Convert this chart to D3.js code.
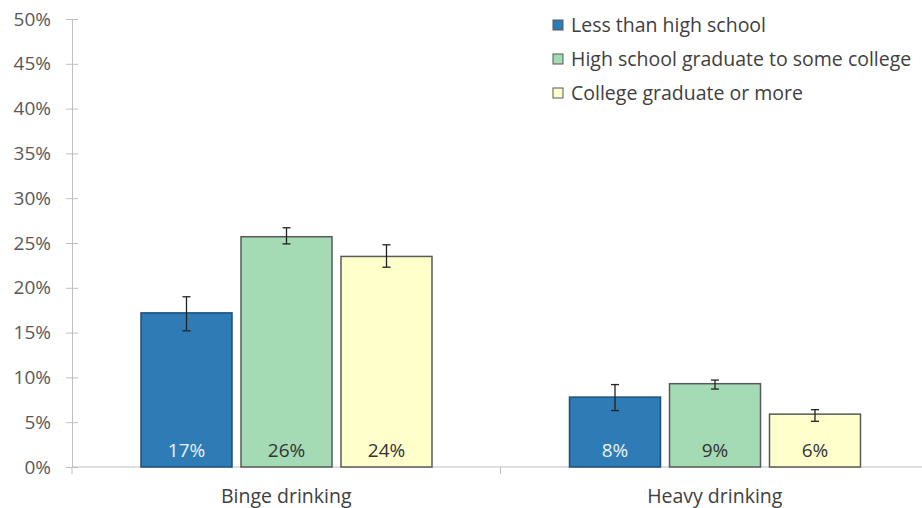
<!DOCTYPE html>
<html>
<head>
<meta charset="utf-8">
<script src="https://cdn.jsdelivr.net/npm/d3@7"></script>
<style>
  body { margin: 0; background: #fff; }
  svg text { font-family: "Open Sans", Lato, sans-serif; }
</style>
</head>
<body>
<svg id="chart"></svg>
<script>
// data
var categories = ["Binge drinking", "Heavy drinking"];
var groups = ["Less than high school", "High school graduate to some college", "College graduate or more"];
var lessThanHS = [17.2, 7.8];
var hsSomeCollege = [25.7, 9.3];
var collegeGrad = [23.5, 5.9];
var errLow = [[15.2, 6.3], [24.9, 8.7], [22.3, 5.1]];
var errHigh = [[19.0, 9.2], [26.7, 9.7], [24.8, 6.4]];
var yTicks = [0, 5, 10, 15, 20, 25, 30, 35, 40, 45, 50];

var series = [lessThanHS, hsSomeCollege, collegeGrad];
var colors = ["#2e7bb6", "#a4dbb4", "#ffffcc"];
var labelColors = ["#eaf2f8", "#333", "#333"];

var W = 922, H = 508;
var svg = d3.select("#chart").attr("width", W).attr("height", H);

var x0 = d3.scaleBand().domain(categories).range([72, 929]).paddingInner(0).paddingOuter(0);
var x1 = d3.scaleBand().domain(groups).range([60, 369]).padding(0.09);
var y = d3.scaleLinear().domain([0, 50]).range([467, 19]);

// y axis
var yAxis = svg.append("g").attr("transform", "translate(72,0)")
    .call(d3.axisLeft(y).tickValues(yTicks).tickFormat(d => d + "%").tickSizeInner(6).tickSizeOuter(0));
yAxis.select(".domain").attr("stroke", "#bfbfbf");
yAxis.selectAll(".tick line").attr("stroke", "#bfbfbf").attr("x1", -6).attr("x2", 6);
yAxis.selectAll(".tick text").attr("x", -21).attr("fill", "#595959").style("font-size", "19px")
    .style("font-family", "'Open Sans', sans-serif");

// x axis baseline + divider ticks
var xAxis = svg.append("g").attr("transform", "translate(0,467)");
xAxis.append("line").attr("x1", 72).attr("x2", W).attr("stroke", "#bfbfbf");
xAxis.selectAll("line.div").data(categories).enter().append("line")
    .attr("x1", d => x0(d)).attr("x2", d => x0(d)).attr("y1", 0).attr("y2", 7).attr("stroke", "#bfbfbf");
xAxis.selectAll("text").data(categories).enter().append("text")
    .attr("x", d => x0(d) + x0.bandwidth() / 2).attr("y", 36)
    .attr("text-anchor", "middle").attr("fill", "#404040").style("font-size", "19.5px").text(d => d);

// bars
var rows = [];
categories.forEach(function(c, i) {
  groups.forEach(function(g, j) {
    rows.push({cat: c, group: g, gi: j, value: series[j][i], lo: errLow[j][i], hi: errHigh[j][i]});
  });
});

var bars = svg.append("g");
bars.selectAll("rect").data(rows).enter().append("rect")
    .attr("x", d => x0(d.cat) + x1(d.group))
    .attr("y", d => y(d.value))
    .attr("width", x1.bandwidth())
    .attr("height", d => y(0) - y(d.value))
    .attr("fill", d => colors[d.gi])
    .attr("stroke", d => d.gi === 0 ? "#1f4e79" : "#595959")
    .attr("stroke-width", 1.5);

// error bars
var eb = svg.append("g").attr("stroke", "#222").attr("stroke-width", 1.3);
rows.forEach(function(d) {
  var cx = x0(d.cat) + x1(d.group) + x1.bandwidth() / 2;
  eb.append("line").attr("x1", cx).attr("x2", cx).attr("y1", y(d.hi)).attr("y2", y(d.lo));
  eb.append("line").attr("x1", cx - 4).attr("x2", cx + 4).attr("y1", y(d.hi)).attr("y2", y(d.hi));
  eb.append("line").attr("x1", cx - 4).attr("x2", cx + 4).attr("y1", y(d.lo)).attr("y2", y(d.lo));
});

// value labels
svg.append("g").selectAll("text").data(rows).enter().append("text")
    .attr("x", d => x0(d.cat) + x1(d.group) + x1.bandwidth() / 2)
    .attr("y", 457)
    .attr("text-anchor", "middle")
    .attr("fill", d => labelColors[d.gi])
    .style("font-size", "19px")
    .text(d => Math.round(d.value) + "%");

// legend
var legend = svg.append("g").attr("transform", "translate(553,20)");
var li = legend.selectAll("g").data(groups).enter().append("g")
    .attr("transform", (d, i) => "translate(0," + (i * 34) + ")");
li.append("rect").attr("width", 10).attr("height", 10)
    .attr("fill", (d, i) => colors[i]).attr("stroke", "#595959");
li.append("text").attr("x", 18).attr("y", 12).attr("fill", "#404040")
    .style("font-size", "19.5px").text(d => d);
</script>
</body>
</html>
